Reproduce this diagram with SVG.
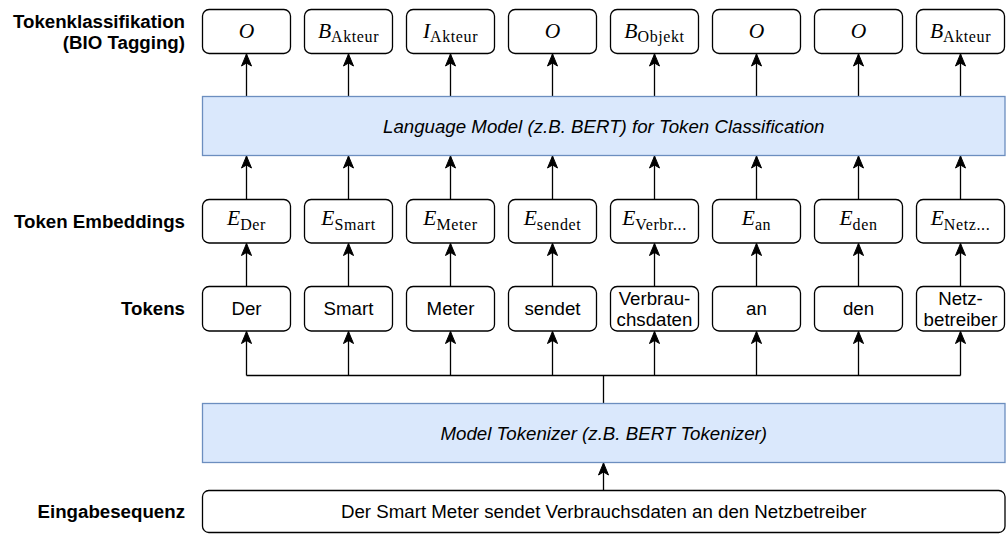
<svg xmlns="http://www.w3.org/2000/svg" width="1007" height="534" viewBox="0 0 1007 534">
<style>
.box{fill:#fff;stroke:#000;stroke-width:1.3}
.blue{fill:#dae8fc;stroke:#6c8ebf;stroke-width:1.3}
.lbl{font-family:"Liberation Sans",Arial,sans-serif;font-weight:bold;font-size:18.7px;fill:#000;text-anchor:end}
.t{font-family:"Liberation Sans",Arial,sans-serif;font-size:18.7px;fill:#000;text-anchor:middle}
.it{font-style:italic}
.m{font-family:"Liberation Serif","Times New Roman",serif;font-size:21.5px;fill:#000;text-anchor:middle}
.mv{font-style:italic}
.ms{font-size:16px;font-style:normal;letter-spacing:0.6px}
.c{fill:none;stroke:#000;stroke-width:1.3;marker-end:url(#arr)}
.bus{fill:none;stroke:#000;stroke-width:1.3}
</style>
<defs>
<marker id="arr" viewBox="-13 -6 14 12" refX="0" refY="0" markerWidth="14" markerHeight="12" markerUnits="userSpaceOnUse" orient="auto">
<path d="M0,0 L-12,-5 L-9,0 L-12,5 Z" fill="#000" stroke="#000" stroke-width="1"/>
</marker>
</defs>

<g id="labels">
<text class="lbl" x="185" y="27.5">Tokenklassifikation</text>
<text class="lbl" x="185" y="49">(BIO Tagging)</text>
<text class="lbl" x="185" y="228">Token Embeddings</text>
<text class="lbl" x="185" y="315.3">Tokens</text>
<text class="lbl" x="185" y="518">Eingabesequenz</text>
</g>

<g id="connectors">
<path class="c" d="M603.5,490.5 V463"/>
<path class="bus" d="M603.5,403.5 V375.5 M246.5,375.5 H960.5"/>
<path class="c" d="M246.5,375.5 V331.5"/>
<path class="c" d="M348.5,375.5 V331.5"/>
<path class="c" d="M450.5,375.5 V331.5"/>
<path class="c" d="M552.5,375.5 V331.5"/>
<path class="c" d="M654.5,375.5 V331.5"/>
<path class="c" d="M756.5,375.5 V331.5"/>
<path class="c" d="M858.5,375.5 V331.5"/>
<path class="c" d="M960.5,375.5 V331.5"/>
<path class="c" d="M246.5,286.5 V243.5"/>
<path class="c" d="M348.5,286.5 V243.5"/>
<path class="c" d="M450.5,286.5 V243.5"/>
<path class="c" d="M552.5,286.5 V243.5"/>
<path class="c" d="M654.5,286.5 V243.5"/>
<path class="c" d="M756.5,286.5 V243.5"/>
<path class="c" d="M858.5,286.5 V243.5"/>
<path class="c" d="M960.5,286.5 V243.5"/>
<path class="c" d="M246.5,199.5 V156"/>
<path class="c" d="M348.5,199.5 V156"/>
<path class="c" d="M450.5,199.5 V156"/>
<path class="c" d="M552.5,199.5 V156"/>
<path class="c" d="M654.5,199.5 V156"/>
<path class="c" d="M756.5,199.5 V156"/>
<path class="c" d="M858.5,199.5 V156"/>
<path class="c" d="M960.5,199.5 V156"/>
<path class="c" d="M246.5,96.5 V54"/>
<path class="c" d="M348.5,96.5 V54"/>
<path class="c" d="M450.5,96.5 V54"/>
<path class="c" d="M552.5,96.5 V54"/>
<path class="c" d="M654.5,96.5 V54"/>
<path class="c" d="M756.5,96.5 V54"/>
<path class="c" d="M858.5,96.5 V54"/>
<path class="c" d="M960.5,96.5 V54"/>
</g>

<g id="input">
<rect class="box" x="202.5" y="490.5" width="802.5" height="42" rx="6.3"/>
<text class="t" x="603.75" y="518">Der Smart Meter sendet Verbrauchsdaten an den Netzbetreiber</text>
</g>

<g id="tokenizer">
<rect class="blue" x="202.5" y="403.5" width="802.5" height="59"/>
<text class="t it" x="603.75" y="439.5">Model Tokenizer (z.B. BERT Tokenizer)</text>
</g>

<g id="lm">
<rect class="blue" x="202.5" y="96.5" width="802.5" height="59"/>
<text class="t it" x="603.75" y="132.5">Language Model (z.B. BERT) for Token Classification</text>
</g>

<g id="tok-der"><rect class="box" x="202.5" y="286.5" width="88" height="44.5" rx="6.6"/><text class="t" x="246.5" y="315.3">Der</text></g>
<g id="tok-smart"><rect class="box" x="304.5" y="286.5" width="88" height="44.5" rx="6.6"/><text class="t" x="348.5" y="315.3">Smart</text></g>
<g id="tok-meter"><rect class="box" x="406.5" y="286.5" width="88" height="44.5" rx="6.6"/><text class="t" x="450.5" y="315.3">Meter</text></g>
<g id="tok-sendet"><rect class="box" x="508.5" y="286.5" width="88" height="44.5" rx="6.6"/><text class="t" x="552.5" y="315.3">sendet</text></g>
<g id="tok-verbrauchsdaten"><rect class="box" x="610.5" y="286.5" width="88" height="44.5" rx="6.6"/><text class="t" x="654.5" y="304.7">Verbrau-</text><text class="t" x="654.5" y="326">chsdaten</text></g>
<g id="tok-an"><rect class="box" x="712.5" y="286.5" width="88" height="44.5" rx="6.6"/><text class="t" x="756.5" y="315.3">an</text></g>
<g id="tok-den"><rect class="box" x="814.5" y="286.5" width="88" height="44.5" rx="6.6"/><text class="t" x="858.5" y="315.3">den</text></g>
<g id="tok-netzbetreiber"><rect class="box" x="916.5" y="286.5" width="88" height="44.5" rx="6.6"/><text class="t" x="960.5" y="304.7">Netz-</text><text class="t" x="960.5" y="326">betreiber</text></g>

<g id="emb-der"><rect class="box" x="202.5" y="199.5" width="88" height="43.5" rx="6.6"/><text class="m" x="246.5" y="225"><tspan class="mv">E</tspan><tspan class="ms" dy="4.5">Der</tspan></text></g>
<g id="emb-smart"><rect class="box" x="304.5" y="199.5" width="88" height="43.5" rx="6.6"/><text class="m" x="348.5" y="225"><tspan class="mv">E</tspan><tspan class="ms" dy="4.5">Smart</tspan></text></g>
<g id="emb-meter"><rect class="box" x="406.5" y="199.5" width="88" height="43.5" rx="6.6"/><text class="m" x="450.5" y="225"><tspan class="mv">E</tspan><tspan class="ms" dy="4.5">Meter</tspan></text></g>
<g id="emb-sendet"><rect class="box" x="508.5" y="199.5" width="88" height="43.5" rx="6.6"/><text class="m" x="552.5" y="225"><tspan class="mv">E</tspan><tspan class="ms" dy="4.5">sendet</tspan></text></g>
<g id="emb-verbr"><rect class="box" x="610.5" y="199.5" width="88" height="43.5" rx="6.6"/><text class="m" x="654.5" y="225"><tspan class="mv">E</tspan><tspan class="ms" dy="4.5">Verbr...</tspan></text></g>
<g id="emb-an"><rect class="box" x="712.5" y="199.5" width="88" height="43.5" rx="6.6"/><text class="m" x="756.5" y="225"><tspan class="mv">E</tspan><tspan class="ms" dy="4.5">an</tspan></text></g>
<g id="emb-den"><rect class="box" x="814.5" y="199.5" width="88" height="43.5" rx="6.6"/><text class="m" x="858.5" y="225"><tspan class="mv">E</tspan><tspan class="ms" dy="4.5">den</tspan></text></g>
<g id="emb-netz"><rect class="box" x="916.5" y="199.5" width="88" height="43.5" rx="6.6"/><text class="m" x="960.5" y="225"><tspan class="mv">E</tspan><tspan class="ms" dy="4.5">Netz...</tspan></text></g>

<g id="out-1"><rect class="box" x="202.5" y="9.5" width="88" height="44" rx="6.6"/><text class="m mv" x="246.5" y="37.5">O</text></g>
<g id="out-2"><rect class="box" x="304.5" y="9.5" width="88" height="44" rx="6.6"/><text class="m" x="348.5" y="37.5"><tspan class="mv">B</tspan><tspan class="ms" dy="4.5">Akteur</tspan></text></g>
<g id="out-3"><rect class="box" x="406.5" y="9.5" width="88" height="44" rx="6.6"/><text class="m" x="450.5" y="37.5"><tspan class="mv">I</tspan><tspan class="ms" dy="4.5">Akteur</tspan></text></g>
<g id="out-4"><rect class="box" x="508.5" y="9.5" width="88" height="44" rx="6.6"/><text class="m mv" x="552.5" y="37.5">O</text></g>
<g id="out-5"><rect class="box" x="610.5" y="9.5" width="88" height="44" rx="6.6"/><text class="m" x="654.5" y="37.5"><tspan class="mv">B</tspan><tspan class="ms" dy="4.5">Objekt</tspan></text></g>
<g id="out-6"><rect class="box" x="712.5" y="9.5" width="88" height="44" rx="6.6"/><text class="m mv" x="756.5" y="37.5">O</text></g>
<g id="out-7"><rect class="box" x="814.5" y="9.5" width="88" height="44" rx="6.6"/><text class="m mv" x="858.5" y="37.5">O</text></g>
<g id="out-8"><rect class="box" x="916.5" y="9.5" width="88" height="44" rx="6.6"/><text class="m" x="960.5" y="37.5"><tspan class="mv">B</tspan><tspan class="ms" dy="4.5">Akteur</tspan></text></g>
</svg>
